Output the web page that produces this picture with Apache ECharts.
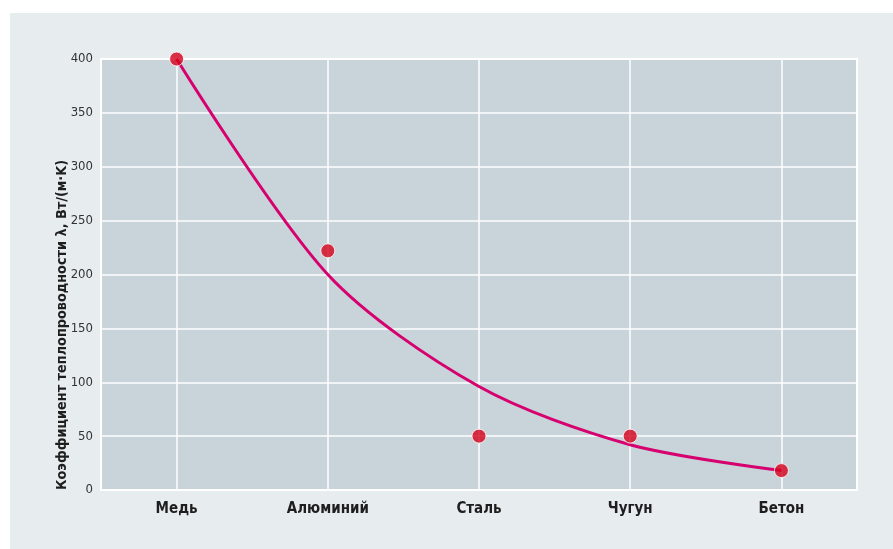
<!DOCTYPE html>
<html>
<head>
<meta charset="utf-8">
<script src="https://cdn.jsdelivr.net/npm/echarts@6/dist/echarts.min.js"></script>
<style>
  html, body { margin: 0; padding: 0; background: #ffffff; }
  #panel { position: absolute; left: 10px; top: 13px; width: 883px; height: 536px; background: #e7ecef; }
  #chart { position: absolute; left: 0; top: 0; width: 893px; height: 549px; }
</style>
</head>
<body>
<div id="panel"></div>
<div id="chart"></div>
<script>
// Thermal conductivity of common materials
const materials = ['Медь', 'Алюминий', 'Сталь', 'Чугун', 'Бетон'];
const conductivity = [400, 222, 50, 50, 18];
const trendValues = [400, 200, 96, 42, 18];
const yTicks = { min: 0, max: 400, interval: 50 };
const axisTitle = 'Коэффициент теплопроводности λ, Вт/(м·K)';

const narrow = "'Liberation Sans Narrow', 'DejaVu Sans Condensed', 'Roboto', sans-serif";

const chart = echarts.init(document.getElementById('chart'), null, { renderer: 'canvas' });
chart.setOption({
  backgroundColor: 'transparent',
  animation: false,
  grid: {
    left: 101, right: 36, top: 59, bottom: 59,
    show: true,
    backgroundColor: '#c8d3da',
    borderColor: '#ffffff',
    borderWidth: 2
  },
  xAxis: {
    type: 'category',
    data: materials,
    boundaryGap: true,
    axisLine: { show: false },
    axisTick: { show: false },
    axisLabel: {
      margin: 12,
      color: '#1e1e1e',
      fontFamily: narrow,
      fontWeight: 'bold',
      fontSize: 15
    },
    splitLine: { show: true, alignWithLabel: true, lineStyle: { color: '#ffffff', width: 1.5 } }
  },
  yAxis: {
    type: 'value',
    min: yTicks.min, max: yTicks.max, interval: yTicks.interval,
    axisLine: { show: false },
    axisTick: { show: false },
    axisLabel: {
      margin: 8,
      color: '#333333',
      fontFamily: narrow,
      fontSize: 13
    },
    splitLine: { show: true, lineStyle: { color: '#ffffff', width: 1.5 } }
  },
  graphic: [{
    type: 'text',
    x: 62, y: 490,
    rotation: Math.PI / 2,
    style: {
      text: axisTitle,
      fill: '#1e1e1e',
      font: "bold 14.3px " + narrow,
      textAlign: 'left',
      textVerticalAlign: 'middle'
    }
  }],
  series: [
    {
      name: 'trend',
      type: 'line',
      data: trendValues,
      smooth: 0.3,
      symbol: 'none',
      clip: false,
      lineStyle: { color: '#d6006e', width: 3 },
      z: 2
    },
    {
      name: 'λ',
      type: 'scatter',
      data: conductivity,
      symbolSize: 14,
      clip: false,
      itemStyle: { color: '#d5001a', borderColor: '#ffffff', borderWidth: 1 },
      z: 3
    }
  ]
});
</script>
</body>
</html>
